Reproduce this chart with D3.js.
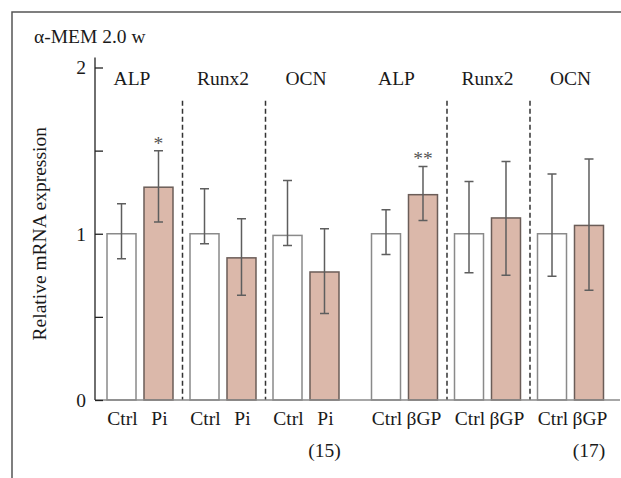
<!DOCTYPE html>
<html lang="en">
<head>
    <meta charset="UTF-8">
    <title>Relative mRNA expression</title>
    <style>
        body { margin: 0; background: #fff; }
        svg text {
            font-family: "Liberation Serif", "DejaVu Serif", serif;
            font-size: 19.5px;
            fill: #1a1a1a;
        }
        .frame { stroke: #555; stroke-width: 1.5px; fill: none; }
        .bar-ctrl { fill: #fff; stroke: #8a8a8a; stroke-width: 1.5px; }
        .bar-treat { fill: #dbb8aa; stroke: #6b5d58; stroke-width: 1.5px; }
        .err { stroke: #5e5e5e; stroke-width: 1.5px; fill: none; }
        .sep { stroke: #333; stroke-width: 1.5px; stroke-dasharray: 5,3; }
        .baseline { stroke: #8a8a8a; stroke-width: 1.5px; }
        .yAxis line, .yAxis path { stroke: #222; stroke-width: 1.3px; }
        .star { fill: #555; }
    </style>
    <script src="https://d3js.org/d3.v7.min.js"></script>
</head>
<body>
<script>
    // data
    const title = "α-MEM 2.0 w";
    const genes = ["ALP", "Runx2", "OCN"];
    const treatments = ["Pi", "βGP"];
    const refs = ["(15)", "(17)"];
    const groups = ["Ctrl", "Treat"];
    const yTicks = [0, 0.5, 1, 1.5, 2];

    // one entry per gene, Pi experiment first then βGP
    const ctrlMean = [1.00, 1.00, 0.99, 1.00, 1.00, 1.00];
    const ctrlUpper = [1.18, 1.27, 1.32, 1.145, 1.315, 1.36];
    const ctrlLower = [0.85, 0.94, 0.93, 0.875, 0.765, 0.745];
    const treatMean = [1.28, 0.855, 0.77, 1.235, 1.095, 1.05];
    const treatUpper = [1.50, 1.09, 1.03, 1.405, 1.435, 1.45];
    const treatLower = [1.07, 0.63, 0.52, 1.08, 0.75, 0.66];
    const signif = ["*", "", "", "**", "", ""];

    const width = 621, height = 478;
    const margin = {top: 67.5, left: 98.5, right: 9, bottom: 77.5};

    const svg = d3.select("body").append("svg")
        .attr("width", width)
        .attr("height", height);

    // outer frame (top and left edges only)
    svg.append("path")
        .attr("class", "frame")
        .attr("d", `M12,${height} V12 H${width}`);

    svg.append("text")
        .attr("x", 34)
        .attr("y", 43)
        .text(title);

    const y = d3.scaleLinear()
        .domain([0, 2])
        .range([height - margin.bottom - 0.5, margin.top]);

    const xExp = d3.scaleBand()
        .domain(treatments)
        .range([margin.left, width - margin.right])
        .paddingInner(0.0586);

    const xGene = d3.scaleBand()
        .domain(genes)
        .range([0, xExp.bandwidth()]);

    const xGroup = d3.scaleBand()
        .domain(groups)
        .range([0, xGene.bandwidth()])
        .paddingInner(0.216)
        .paddingOuter(0.23);

    // flatten into rows
    const rows = [];
    treatments.forEach((t, ti) => {
        genes.forEach((g, gi) => {
            const i = ti * genes.length + gi;
            const x0 = xExp(t) + xGene(g);
            rows.push({treat: t, gene: g, group: "Ctrl", label: "Ctrl", x: x0 + xGroup("Ctrl"),
                mean: ctrlMean[i], hi: ctrlUpper[i], lo: ctrlLower[i], sig: ""});
            rows.push({treat: t, gene: g, group: "Treat", label: t, x: x0 + xGroup("Treat"),
                mean: treatMean[i], hi: treatUpper[i], lo: treatLower[i], sig: signif[i]});
        });
    });
    const bw = xGroup.bandwidth();

    // dashed separators between genes within an experiment
    treatments.forEach(t => {
        genes.slice(1).forEach(g => {
            svg.append("line")
                .attr("class", "sep")
                .attr("x1", xExp(t) + xGene(g) + 1)
                .attr("x2", xExp(t) + xGene(g) + 1)
                .attr("y1", y(1.8))
                .attr("y2", y(0));
        });
        genes.forEach(g => {
            svg.append("text")
                .attr("x", xExp(t) + xGene(g) + xGene.bandwidth() / 2 - (g === "ALP" ? 8 : 0))
                .attr("y", 85)
                .attr("text-anchor", "middle")
                .text(g);
        });
    });

    // bars
    svg.append("g").selectAll("rect")
        .data(rows)
        .join("rect")
        .attr("class", d => d.group === "Ctrl" ? "bar-ctrl" : "bar-treat")
        .attr("x", d => d.x)
        .attr("width", bw)
        .attr("y", d => y(d.mean))
        .attr("height", d => y(0) - y(d.mean));

    // error bars
    const err = svg.append("g").attr("class", "err");
    rows.forEach(d => {
        const cx = d.x + bw / 2;
        err.append("path")
            .attr("d", `M${cx},${y(d.lo)} V${y(d.hi)} M${cx - 4.5},${y(d.hi)} H${cx + 4.5} M${cx - 4.5},${y(d.lo)} H${cx + 4.5}`);
    });

    // significance marks
    svg.append("g").selectAll("text")
        .data(rows.filter(d => d.sig))
        .join("text")
        .attr("class", "star")
        .attr("x", d => d.x + bw / 2)
        .attr("y", d => y(d.hi) - 1)
        .attr("text-anchor", "middle")
        .text(d => d.sig);

    // baseline
    svg.append("line")
        .attr("class", "baseline")
        .attr("x1", margin.left - 3.5)
        .attr("x2", width - 1)
        .attr("y1", y(0))
        .attr("y2", y(0));

    // y axis
    const yAxis = svg.append("g")
        .attr("class", "yAxis")
        .attr("transform", `translate(${margin.left - 3.5},0)`)
        .call(d3.axisLeft(y)
            .tickValues(yTicks)
            .tickSizeInner(-8)
            .tickSizeOuter(0)
            .tickPadding(9)
            .tickFormat(d => Number.isInteger(d) ? d : ""));
    yAxis.select(".domain").remove();
    yAxis.selectAll("text")
        .style("font-family", "'Liberation Serif', serif")
        .style("font-size", "19.5px")
        .attr("fill", "#1a1a1a");
    yAxis.append("line")
        .attr("y1", y(0))
        .attr("y2", y(2) - 10);

    svg.append("text")
        .attr("transform", `translate(46, ${y(1)}) rotate(-90)`)
        .attr("text-anchor", "middle")
        .text("Relative mRNA expression");

    // category labels
    svg.append("g").selectAll("text")
        .data(rows)
        .join("text")
        .attr("x", d => d.x + bw / 2 + 1)
        .attr("y", 425)
        .attr("text-anchor", "middle")
        .text(d => d.label);

    treatments.forEach((t, ti) => {
        const last = xExp(t) + xGene(genes[genes.length - 1]) + xGroup("Treat") + bw / 2;
        svg.append("text")
            .attr("x", last)
            .attr("y", 457)
            .attr("text-anchor", "middle")
            .text(refs[ti]);
    });
</script>
</body>
</html>
